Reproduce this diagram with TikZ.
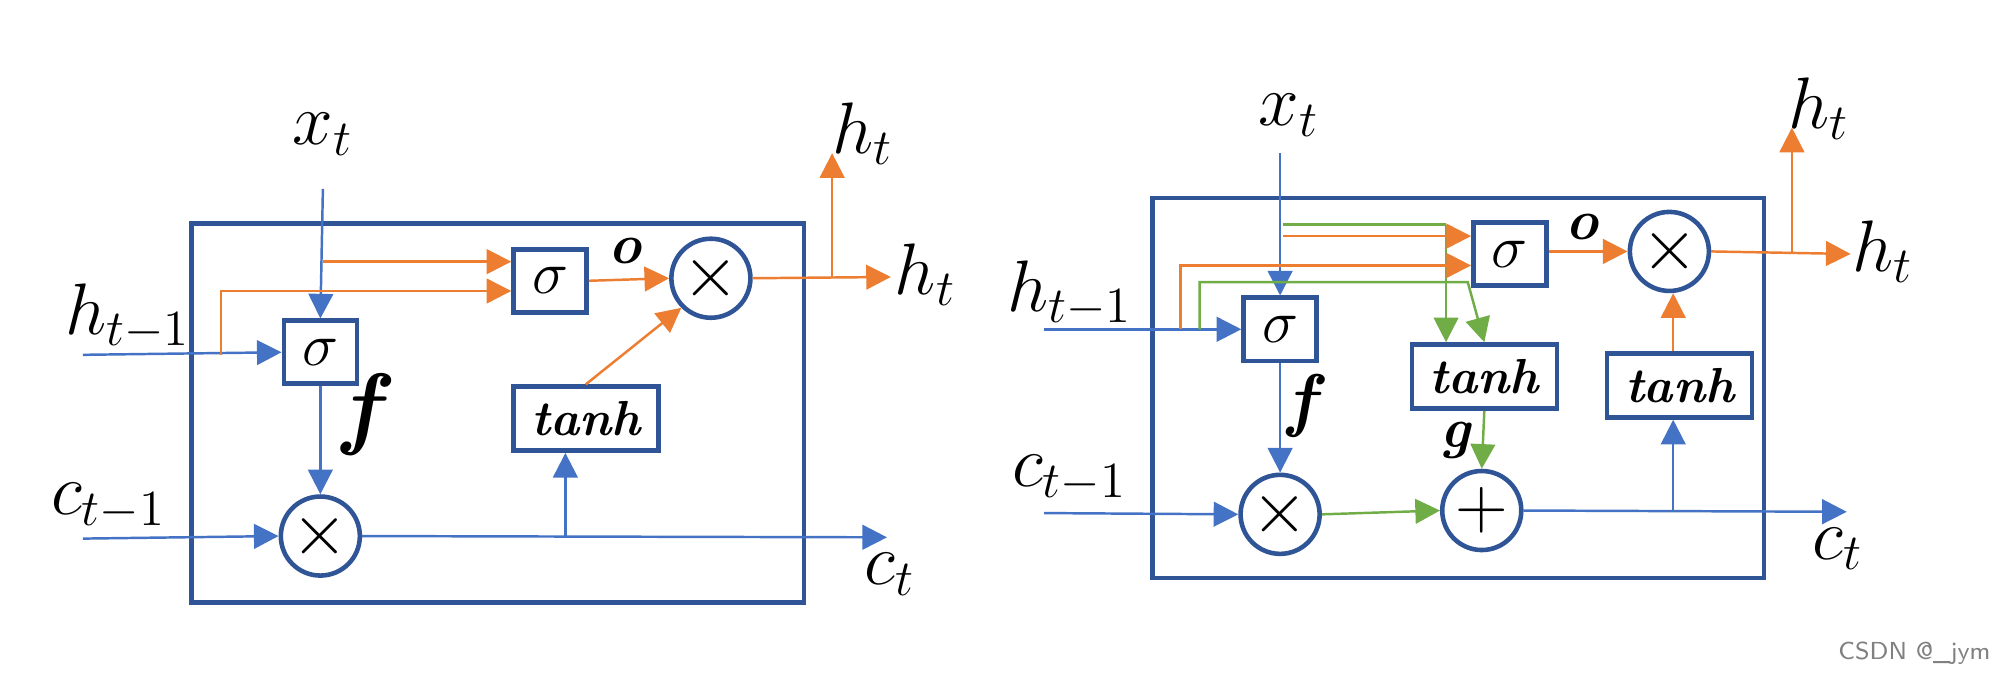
\documentclass[tikz,border=0pt]{standalone}
\usetikzlibrary{arrows.meta}
\definecolor{bx}{HTML}{2F5597}
\definecolor{bl}{HTML}{4472C4}
\definecolor{og}{HTML}{ED7D31}
\definecolor{gn}{HTML}{70AD47}
\begin{document}
\begin{tikzpicture}[x={(0.01276cm,0)},y={(0,-0.01276cm)},
  box/.style={draw=bx,line width=1.3pt,inner sep=0pt},
  cir/.style={draw=bx,line width=1.3pt,circle,inner sep=0pt,minimum size=0.79cm,font=\fontsize{22}{24}\selectfont},
  lab/.style={font=\fontsize{20}{24}\selectfont},
  sig/.style={box,minimum width=0.73cm,minimum height=0.63cm,font=\fontsize{19}{22}\selectfont},
  th/.style={box,minimum width=1.45cm,minimum height=0.64cm,font=\fontsize{14}{16}\selectfont\bfseries\itshape},
  B/.style={bl,line width=0.7pt,-{Triangle[length=7pt,width=7pt]}},
  O/.style={og,line width=0.7pt,-{Triangle[length=7pt,width=7pt]}},
  G/.style={gn,line width=0.7pt,-{Triangle[length=7pt,width=7pt]}},
  Bn/.style={bl,line width=0.7pt},On/.style={og,line width=0.7pt},Gn/.style={gn,line width=0.7pt}]
\useasboundingbox (0,0) rectangle (1560,527);
% ===== left =====
\draw[box] (150,175) rectangle (630,472);
\node[sig] (s1) at (251,276) {$\sigma$};
\node[sig] (s2) at (431,220) {$\sigma$};
\node[cir] (m1) at (557,218) {$\times$};
\node[th] (t1) at (459,328) {tanh};
\node[cir] (m2) at (251,420) {$\times$};
\node[lab] (xt) at (253,105) {$x_t$};
\node[lab] (hp) at (100,248) {$h_{t-1}$};
\node[lab] (cp) at (85,397) {$c_{t-1}$};
\node[lab] (ht1) at (725,215) {$h_t$};
\node[lab] (ht2) at (676,105) {$h_t$};
\node[lab] (ct) at (697,450) {$c_t$};
\node[font=\fontsize{16}{18}\selectfont\bfseries\itshape] (o1) at (490,197) {o};
\node[font=\fontsize{26}{28}\selectfont\bfseries\itshape] (f1) at (283,325) {f};
\coordinate (xa) at (253,148);
\coordinate (ha) at (65,278);
\coordinate (ca) at (65,422);
\coordinate (hb) at (698,217);
\coordinate (hc) at (652,120);
\coordinate (cb) at (695,421);
\draw[B] (xa) -- (s1.north);
\draw[B] (ha) -- (s1.west);
\draw[O] (173,278) -- (173,228) -- (s2.west|-0,228);
\draw[O] (253,205) -- (s2.west|-0,205);
\draw[O] (s2.east) -- (m1.west);
\draw[O] (m1.east) -- (hb);
\draw[O] (652,217) -- (hc);
\draw[O] (t1.north) -- (m1.south west);
\draw[B] (s1.south) -- (m2.north);
\draw[B] (ca) -- (m2.west);
\draw[B] (m2.east) -- (cb);
\draw[B] (443,421) -- (t1.south-|443,0);
% ===== right =====
\draw[box] (903,155) rectangle (1382,453);
\node[sig] (s3) at (1003,258) {$\sigma$};
\node[sig] (s4) at (1183,199) {$\sigma$};
\node[cir] (m3) at (1308,197) {$\times$};
\node[th] (t2) at (1163,295) {tanh};
\node[th] (t3) at (1316,302) {tanh};
\node[cir] (m4) at (1003,403) {$\times$};
\node[cir] (p1) at (1161,400) {$+$};
\node[lab] (xt2) at (1010,90) {$x_t$};
\node[lab] (hp2) at (838,230) {$h_{t-1}$};
\node[lab] (cp2) at (838,375) {$c_{t-1}$};
\node[lab] (ht3) at (1475,197) {$h_t$};
\node[lab] (ht4) at (1425,85) {$h_t$};
\node[lab] (ct2) at (1440,430) {$c_t$};
\node[font=\fontsize{16}{18}\selectfont\bfseries\itshape] (o2) at (1240,178) {o};
\node[font=\fontsize{20}{22}\selectfont\bfseries\itshape] (f2) at (1020,318) {f};
\node[font=\fontsize{16}{18}\selectfont\bfseries\itshape] (g2) at (1140,345) {g};
\coordinate (xa2) at (1003,120);
\coordinate (ha2) at (818,258);
\coordinate (ca2) at (818,402);
\coordinate (hb2) at (1450,199);
\coordinate (hc2) at (1404,100);
\coordinate (cb2) at (1447,401);
\draw[B] (xa2) -- (s3.north);
\draw[B] (ha2) -- (s3.west);
\draw[Gn] (1005,176) -- (1133,176);
\draw[G] (1133,176) -- (t2.north-|1133,0);
\draw[G] (940,258) -- (940,221) -- (1150,221) -- (t2.north-|1163,0);
\draw[O] (925,258) -- (925,208) -- (s4.west|-0,208);
\draw[O] (1005,185) -- (s4.west|-0,185);
\draw[O] (s4.east|-0,197) -- (m3.west);
\draw[O] (m3.east) -- (hb2);
\draw[O] (1404,198) -- (hc2);
\draw[O] (t3.north-|1311,0) -- (m3.south-|1311,0);
\draw[B] (s3.south) -- (m4.north);
\draw[B] (ca2) -- (m4.west);
\draw[G] (m4.east) -- (p1.west);
\draw[G] (t2.south) -- (p1.north);
\draw[B] (p1.east) -- (cb2);
\draw[B] (1311,400) -- (t3.south-|1311,0);
\node[font=\sffamily\fontsize{7}{8}\selectfont,text=gray] (wm) at (1500,512) {CSDN @\_jym};
\end{tikzpicture}
\end{document}
